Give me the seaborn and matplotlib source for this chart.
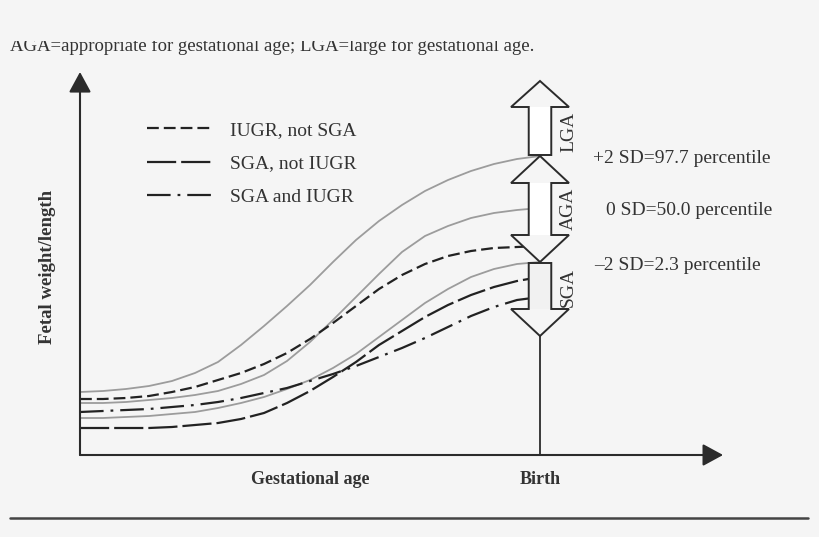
import matplotlib
matplotlib.use("Agg")
import matplotlib.pyplot as plt
import seaborn as sns
from matplotlib.patches import Polygon, Rectangle
from matplotlib.lines import Line2D

# ---------------- data ----------------
weeks = [0, 5, 10, 15, 20, 25, 30, 35, 40, 45, 50, 55, 60, 65, 70, 75, 80, 85, 90, 95, 100]  # birth = 100
sd_plus2 = [63, 64, 66, 69, 74, 82, 93, 110, 129, 149, 170, 193, 215, 234, 250, 264, 275, 284, 291, 296, 299]
sd_zero = [52, 52, 53, 55, 57, 60, 64, 71, 80, 94, 113, 135, 158, 181, 203, 219, 229, 237, 242, 245, 247]
sd_minus2 = [37, 37, 38, 39, 41, 43, 47, 52, 58, 66, 75, 87, 101, 118, 135, 152, 166, 178, 186, 191, 193]
iugr_not_sga = [56, 56, 57, 59, 63, 68, 75, 82, 91, 102, 116, 132, 149, 166, 180, 191, 199, 204, 207, 208, 209]
sga_not_iugr = [27, 27, 27, 27, 28, 30, 32, 36, 42, 52, 64, 78, 93, 110, 124, 138, 150, 160, 168, 174, 178]
sga_and_iugr = [43, 44, 45, 46, 48, 50, 53, 57, 62, 67, 74, 81, 89, 98, 107, 117, 128, 139, 148, 155, 158]

series_names = ["IUGR, not SGA", "SGA, not IUGR", "SGA and IUGR"]
percentile_labels = ["+2 SD=97.7 percentile", "0 SD=50.0 percentile", "\u20132 SD=2.3 percentile"]
band_labels = ["LGA", "AGA", "SGA"]
birth = 100
caption = "AGA=appropriate for gestational age; LGA=large for gestational age."

# ---------------- style ----------------
BG = "#f5f5f5"
INK = "#222222"
GRAY = "#9c9c9c"
TXT = "#333333"
sns.set_theme(style="white")
plt.rcParams["font.family"] = ["Liberation Serif", "DejaVu Serif"]
plt.rcParams["lines.scale_dashes"] = False
plt.rcParams["figure.facecolor"] = BG
plt.rcParams["axes.facecolor"] = BG

fig = plt.figure(figsize=(8.2, 5.37), dpi=100)
W, H = 820, 537
ax = fig.add_axes([80 / W, 82 / H, 644 / W, 380 / H])
ax.set_xlim(0, 140)
ax.set_ylim(0, 380)
ax.set_axis_off()

# gray reference percentile curves
for vals in (sd_plus2, sd_zero, sd_minus2):
    sns.lineplot(x=weeks, y=vals, ax=ax, color=GRAY, linewidth=1.3, legend=False, zorder=2)

# black growth patterns
dash_styles = [(0, (8.5, 3.6)), (0, (21, 3.6)), (0, (17, 5, 2, 5))]
for vals, name, ds in zip((iugr_not_sga, sga_not_iugr, sga_and_iugr), series_names, dash_styles):
    sns.lineplot(x=weeks, y=vals, ax=ax, color=INK, linewidth=1.6, label=name, zorder=3)
    ax.lines[-1].set_linestyle(ds)

leg = ax.legend(loc="upper left", bbox_to_anchor=(147 / W, 1 - 121 / H),
                bbox_transform=fig.transFigure, frameon=False, fontsize=14,
                handlelength=3.4, handletextpad=0.85, labelspacing=0.83,
                borderpad=0, borderaxespad=0)
for t in leg.get_texts():
    t.set_color(TXT)

# ---------------- axes with arrow heads ----------------
arrow_kw = dict(arrowstyle="-|>,head_length=1.25,head_width=0.68", color="#2b2b2b",
                lw=1.5, shrinkA=0, shrinkB=0, mutation_scale=10)
ax.annotate("", xy=(0, 383), xytext=(0, 0), xycoords="data", arrowprops=arrow_kw,
            annotation_clip=False, zorder=6)
ax.annotate("", xy=(139.8, 0), xytext=(0, 0), xycoords="data", arrowprops=arrow_kw,
            annotation_clip=False, zorder=6)

# birth line
ax.plot([birth, birth], [0, 119], color="#2b2b2b", lw=1.3, zorder=4)

# ---------------- hollow category arrows at birth ----------------
sw, hw = 2.45, 6.3   # shaft / head half widths (x units)
lga = [(birth - sw, 300), (birth - sw, 348), (birth - hw, 348), (birth, 374),
       (birth + hw, 348), (birth + sw, 348), (birth + sw, 300)]
aga = [(birth, 299), (birth + hw, 272), (birth + sw, 272), (birth + sw, 220),
       (birth + hw, 220), (birth, 193), (birth - hw, 220), (birth - sw, 220),
       (birth - sw, 272), (birth - hw, 272)]
sga = [(birth - sw, 192), (birth + sw, 192), (birth + sw, 146), (birth + hw, 146),
       (birth, 119), (birth - hw, 146), (birth - sw, 146)]
shafts = [(300, 348, "white"), (220, 272, "white"), (146, 192, "#f1f1f1")]
for pts, (y0, y1, fc) in zip((lga, aga, sga), shafts):
    ax.add_patch(Polygon(pts, closed=True, facecolor=BG, edgecolor="none", zorder=4))
    ax.add_patch(Rectangle((birth - sw, y0), 2 * sw, y1 - y0, facecolor=fc,
                           edgecolor="none", zorder=4.2))
    ax.add_patch(Polygon(pts, closed=True, fill=False, edgecolor="#2b2b2b",
                         lw=1.4, joinstyle="miter", zorder=4.5))

for lab, y in zip(band_labels, (323, 246, 168)):
    ax.text(106.2, y, lab, rotation=90, ha="center", va="center", fontsize=14,
            color=TXT, zorder=6)

for lab, (x, y) in zip(percentile_labels, ((111.5, 296), (114.3, 244), (111.7, 190))):
    ax.text(x, y, lab, ha="left", va="center", fontsize=14, color=TXT)

# ---------------- outer labels ----------------
fig.text(310 / W, 1 - 479 / H, "Gestational age", ha="center", va="center",
         fontsize=13, fontweight="bold", color=TXT)
fig.text(540 / W, 1 - 479 / H, "Birth", ha="center", va="center",
         fontsize=13, fontweight="bold", color=TXT)
fig.text(48 / W, 1 - 267 / H, "Fetal weight/length", rotation=90, ha="center",
         va="center", fontsize=13.5, fontweight="bold", color=TXT)

fig.text(10 / W, 1 - 51 / H, caption, ha="left", va="baseline", fontsize=13.5,
         color=TXT, zorder=3)
fig.add_artist(Rectangle((0, 1 - 40.5 / H), 1, 40.5 / H, transform=fig.transFigure,
                         facecolor=BG, edgecolor="none", zorder=10))

fig.add_artist(Line2D([10 / W, 808 / W], [1 - 518 / H, 1 - 518 / H],
                      transform=fig.transFigure, color="#444444", lw=1.8))

fig.savefig("out.png", dpi=100, facecolor=BG)
